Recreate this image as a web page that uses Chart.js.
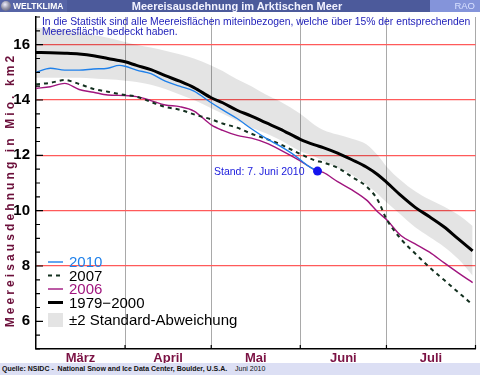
<!DOCTYPE html>
<html>
<head>
<meta charset="utf-8">
<script src="https://cdn.jsdelivr.net/npm/chart.js@4.4.1/dist/chart.umd.min.js"></script>
<style>
 body { margin: 0; background: #fff; }
 #wrap { position: relative; width: 480px; height: 375px; overflow: hidden; font-family: "Liberation Sans", Arial, sans-serif; }
 #chart { position: absolute; left: 0; top: 0; }
 #head { position: absolute; left: 0; top: 0; width: 480px; height: 12px; background: #4c5a9b; }
 #brand { position: absolute; left: 0; top: 0; width: 67px; height: 12px; background: #5664a6; color: #fff; font-weight: bold; font-size: 8.5px; line-height: 12px; }
 #brand i { display: inline-block; width: 10px; height: 10px; margin: 1px 2px 0 1px; vertical-align: top; border-radius: 50%; background: radial-gradient(circle at 40% 35%, #eef 0, #99a 45%, #446 100%); }
 #title { position: absolute; left: 67px; width: 340px; top: 0; text-align: center; color: #f2f2ff; font-weight: bold; font-size: 11px; line-height: 12px; }
 #rao { position: absolute; right: 0; top: 0; width: 50px; height: 12px; background: #8494da; color: #d8e0ff; font-size: 9.5px; line-height: 12px; text-align: right; padding-right: 5px; box-sizing: border-box; }
 #note { position: absolute; left: 42px; top: 17px; color: #1c1cb8; font-size: 10.35px; line-height: 9.7px; white-space: nowrap; }
 #ytitle { position: absolute; left: -130px; top: 183px; width: 280px; height: 14px; text-align: center; transform: rotate(-90deg); color: #6b0f3a; font-weight: bold; font-size: 12px; line-height: 14px; letter-spacing: 3.1px; white-space: nowrap; }
 #foot { position: absolute; left: 0; top: 363px; width: 480px; height: 12px; background: #dcdff4; font-size: 7px; line-height: 12px; color: #111; white-space: nowrap; }
 #foot b { position: absolute; left: 2px; }
 #foot span { position: absolute; left: 235px; }
</style>
</head>
<body>
<div id="wrap">
 <canvas id="chart" width="480" height="375"></canvas>
 <div id="head">
  <div id="brand"><i></i>WELTKLIMA</div>
  <div id="title">Meereisausdehnung im Arktischen Meer</div>
  <div id="rao">RAO</div>
 </div>
 <div id="note">In die Statistik sind alle Meereisflächen miteinbezogen, welche über 15% der entsprechenden<br>Meeresfläche bedeckt haben.</div>
 <div id="ytitle">Meereisausdehnung in Mio. km2</div>
 <div id="foot"><b>Quelle: NSIDC -&nbsp; National Snow and Ice Data Center, Boulder, U.S.A.</b><span>Juni 2010</span></div>
</div>
<script>
// x = days since 1 March
var monthNames = ['März', 'April', 'Mai', 'Juni', 'Juli'];
var monthMid = [15.5, 46, 76.5, 107, 137.5];
var monthStarts = [31, 61, 92, 122, 153];
var yLabels = [6, 8, 10, 12, 14, 16];
var redLines = [8, 10, 12, 14, 16];

var days = [0, 5, 10, 15, 20, 25, 31, 35, 40, 45, 50, 55, 61, 65, 70, 75, 80, 85, 92, 97, 100, 105, 110, 115, 119, 122, 127, 132, 137, 142, 147, 152];
var mean7900 = [15.72, 15.71, 15.69, 15.66, 15.6, 15.5, 15.38, 15.25, 15.1, 14.88, 14.68, 14.45, 14.08, 13.9, 13.63, 13.42, 13.18, 12.95, 12.58, 12.38, 12.28, 12.08, 11.84, 11.58, 11.3, 11.03, 10.55, 10.12, 9.78, 9.42, 8.98, 8.55];
var bandUpper = [16.6, 16.58, 16.52, 16.45, 16.35, 16.25, 16.1, 16.0, 15.9, 15.78, 15.65, 15.5, 15.25, 15.05, 14.75, 14.5, 14.2, 13.95, 13.5, 13.1, 12.92, 12.75, 12.6, 12.4, 12.0, 11.6, 11.1, 10.7, 10.4, 10.15, 9.85, 9.45];
var bandLower = [14.8, 14.8, 14.8, 14.8, 14.78, 14.75, 14.7, 14.65, 14.55, 14.4, 14.2, 14.0, 13.7, 13.5, 13.25, 13.0, 12.8, 12.55, 12.15, 11.95, 11.8, 11.55, 11.3, 10.95, 10.6, 10.3, 9.85, 9.4, 9.05, 8.7, 8.25, 7.65];
var ice2007 = [14.57, 14.62, 14.72, 14.58, 14.4, 14.3, 14.18, 14.12, 13.93, 13.75, 13.65, 13.48, 13.3, 13.15, 13.0, 12.78, 12.6, 12.4, 12.05, 11.82, 11.74, 11.55, 11.22, 10.88, 10.38, 9.7, 8.98, 8.45, 7.95, 7.5, 7.05, 6.6];
var ice2006 = [14.42, 14.48, 14.6, 14.38, 14.28, 14.18, 14.16, 14.12, 13.98, 13.82, 13.76, 13.6, 13.1, 12.9, 12.72, 12.62, 12.45, 12.2, 11.8, 11.48, 11.38, 11.05, 10.75, 10.39, 9.95, 9.68, 9.1, 8.8, 8.5, 8.12, 7.75, 7.4];

var days2010 = [0, 5, 10, 15, 20, 25, 29, 31, 35, 40, 45, 50, 55, 61, 65, 70, 75, 80, 85, 90, 95, 98];
var ice2010 = [15.0, 15.15, 15.08, 15.08, 15.12, 15.15, 15.25, 15.22, 15.08, 14.95, 14.68, 14.5, 14.32, 13.9, 13.64, 13.33, 12.96, 12.62, 12.33, 12.0, 11.6, 11.43];

var FONT = '"Liberation Sans", Arial, sans-serif';

function pts(xs, ys) {
 return xs.map(function (d, i) { return { x: d, y: ys[i] }; });
}

// small inward tick marks on both axes
var innerTicks = {
 id: 'innerTicks',
 afterDraw: function (chart) {
  var ctx = chart.ctx, a = chart.chartArea, y = chart.scales.y, x = chart.scales.x;
  ctx.save();
  ctx.strokeStyle = '#000';
  ctx.lineWidth = 1.2;
  ctx.beginPath();
  y.ticks.forEach(function (t) {
   var py = y.getPixelForValue(t.value);
   var len = (t.value % 2 === 0) ? 7 : 4;
   ctx.moveTo(a.left, py);
   ctx.lineTo(a.left + len, py);
  });
  monthStarts.forEach(function (d) {
   var px = x.getPixelForValue(d);
   ctx.moveTo(px, a.bottom);
   ctx.lineTo(px, a.bottom - 4);
  });
  ctx.stroke();
  ctx.restore();
 }
};

// legend inside the plot + "Stand" label
var legendBox = {
 id: 'legendBox',
 afterDatasetsDraw: function (chart) {
  var ctx = chart.ctx;
  var items = [
   { text: '2010', color: '#1f80ea', line: '#1f80ea', w: 1.4, dash: [], y: 262 },
   { text: '2007', color: '#000', line: '#13301f', w: 2, dash: [4, 4], y: 275.5 },
   { text: '2006', color: '#a0157e', line: '#a0157e', w: 1.4, dash: [], y: 289 },
   { text: '1979\u22122000', color: '#000', line: '#000', w: 3, dash: [], y: 302.5 },
   { text: '\u00b12 Standard-Abweichung', color: '#000', box: true, y: 320 }
  ];
  ctx.save();
  ctx.font = '15px ' + FONT;
  ctx.textBaseline = 'middle';
  items.forEach(function (it) {
   if (it.box) {
    ctx.fillStyle = '#e4e4e4';
    ctx.fillRect(48, it.y - 7, 15, 14);
   } else {
    ctx.strokeStyle = it.line;
    ctx.lineWidth = it.w;
    ctx.setLineDash(it.dash);
    ctx.beginPath();
    ctx.moveTo(48, it.y);
    ctx.lineTo(63, it.y);
    ctx.stroke();
   }
   ctx.setLineDash([]);
   ctx.fillStyle = it.color;
   ctx.fillText(it.text, 69, it.y + 1);
  });

  var meta = chart.getDatasetMeta(0);
  var last = meta.data[meta.data.length - 1];
  ctx.font = '10.5px ' + FONT;
  ctx.fillStyle = '#2020dd';
  ctx.textAlign = 'right';
  ctx.fillText('Stand: 7. Juni 2010', last.x - 13, last.y + 1.5);
  ctx.restore();
 }
};

var chartInstance = new Chart(document.getElementById('chart').getContext('2d'), {
 type: 'line',
 data: {
  datasets: [
   {
    label: '2010',
    data: pts(days2010, ice2010),
    borderColor: '#1f80ea',
    borderWidth: 1.4,
    pointRadius: function (c) { return c.dataIndex === ice2010.length - 1 ? 4.5 : 0; },
    pointBackgroundColor: '#1515ee',
    pointBorderWidth: 0,
    cubicInterpolationMode: 'monotone',
    fill: false
   },
   {
    label: '2007',
    data: pts(days, ice2007),
    borderColor: '#13301f',
    borderWidth: 2,
    borderDash: [4, 4],
    pointRadius: 0,
    cubicInterpolationMode: 'monotone',
    fill: false
   },
   {
    label: '2006',
    data: pts(days, ice2006),
    borderColor: '#a0157e',
    borderWidth: 1.4,
    pointRadius: 0,
    cubicInterpolationMode: 'monotone',
    fill: false
   },
   {
    label: '1979-2000',
    data: pts(days, mean7900),
    borderColor: '#000',
    borderWidth: 3,
    pointRadius: 0,
    cubicInterpolationMode: 'monotone',
    fill: false
   },
   {
    label: 'upper',
    data: pts(days, bandUpper),
    borderWidth: 0,
    borderColor: 'rgba(0,0,0,0)',
    backgroundColor: 'rgba(0,0,0,0.105)',
    pointRadius: 0,
    cubicInterpolationMode: 'monotone',
    fill: '+1'
   },
   {
    label: 'lower',
    data: pts(days, bandLower),
    borderWidth: 0,
    borderColor: 'rgba(0,0,0,0)',
    pointRadius: 0,
    cubicInterpolationMode: 'monotone',
    fill: false
   }
  ]
 },
 options: {
  responsive: false,
  animation: false,
  layout: { padding: { top: 17, right: 3.5, left: 0, bottom: 0 } },
  plugins: { legend: { display: false }, tooltip: { enabled: false } },
  scales: {
   x: {
    type: 'linear',
    position: 'bottom',
    min: 0,
    max: 153,
    afterBuildTicks: function (s) { s.ticks = monthMid.map(function (v) { return { value: v }; }); },
    afterFit: function (s) { s.height = 26; },
    grid: { display: false, drawTicks: false },
    border: { display: true, color: '#000', width: 1.5 },
    ticks: {
     autoSkip: false,
     maxRotation: 0,
     padding: 2,
     color: '#7b1244',
     font: { family: FONT, size: 13, weight: 'bold' },
     callback: function (v, i) { return monthNames[i]; }
    }
   },
   xg: {
    type: 'linear',
    axis: 'x',
    position: 'top',
    min: 0,
    max: 153,
    afterBuildTicks: function (s) { s.ticks = monthStarts.map(function (v) { return { value: v }; }); },
    afterFit: function (s) { s.height = 0; },
    grid: { color: '#a9a9a9', lineWidth: 1, drawTicks: false },
    border: { display: false },
    ticks: { display: false }
   },
   y: {
    min: 5,
    max: 17,
    afterFit: function (s) { s.width = 36; },
    grid: {
     drawTicks: false,
     lineWidth: 1.3,
     color: function (c) { return redLines.indexOf(c.tick.value) >= 0 ? '#ff5a5a' : 'rgba(0,0,0,0)'; }
    },
    border: { display: true, color: '#000', width: 1.5 },
    ticks: {
     stepSize: 0.5,
     autoSkip: false,
     padding: 6,
     color: '#000',
     font: { family: FONT, size: 15, weight: 'bold' },
     callback: function (v) { return yLabels.indexOf(v) >= 0 ? String(v) : ''; }
    }
   }
  }
 },
 plugins: [innerTicks, legendBox]
});
</script>
</body>
</html>
